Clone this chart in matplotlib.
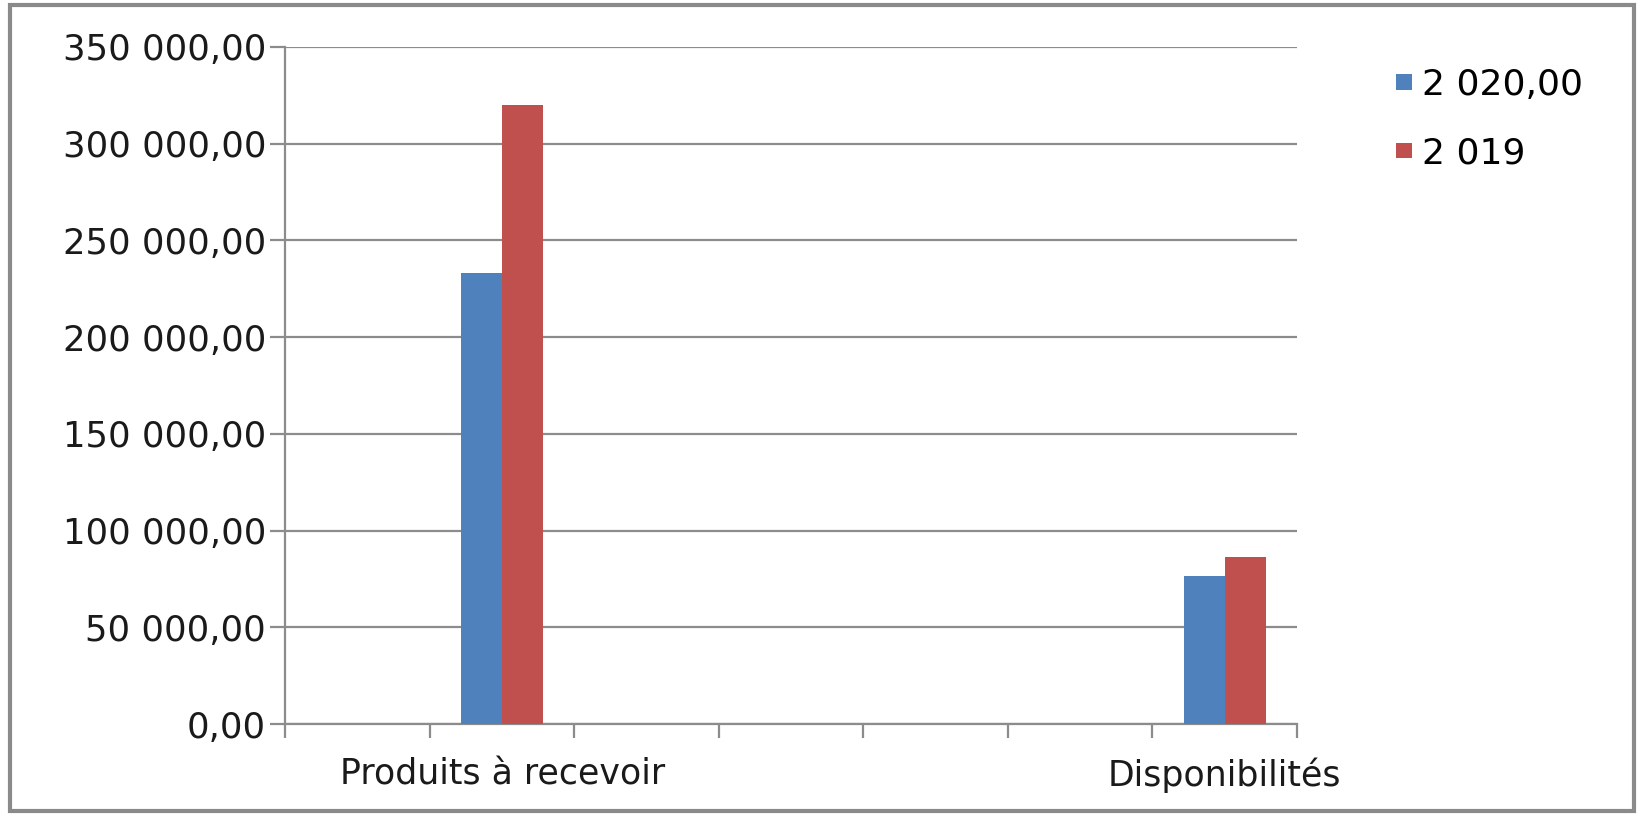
import matplotlib
matplotlib.use("Agg")
import matplotlib.pyplot as plt
from matplotlib.patches import Patch, Rectangle
from matplotlib.ticker import FuncFormatter, MultipleLocator
import numpy as np

categories = ["", "Produits à recevoir", "", "", "", "", "Disponibilités"]
series_names = ["2 020,00", "2 019"]
values_2020 = [0, 233000, 0, 0, 0, 0, 76500]
values_2019 = [0, 320000, 0, 0, 0, 0, 86500]
colors = ["#4F81BD", "#C0504D"]

W, H = 1640, 815
fig = plt.figure(figsize=(W / 100, H / 100), dpi=100)
plt.rcParams['font.family'] = ['DejaVu Sans']

ax = fig.add_axes([285.5 / W, 1 - 724 / H, (1297 - 285.5) / W, (724 - 47) / H])

x = np.arange(len(categories))
bw = 0.284
ax.bar(x - bw / 2, values_2020, bw, color=colors[0], zorder=3)
ax.bar(x + bw / 2, values_2019, bw, color=colors[1], zorder=3)

ax.set_xlim(-0.5, len(categories) - 0.5)
ax.set_ylim(0, 350000)
ax.yaxis.set_major_locator(MultipleLocator(50000))

def fmt(v, pos):
    s = f"{v:,.2f}".replace(",", " ").replace(".", ",")
    return s

ax.yaxis.set_major_formatter(FuncFormatter(fmt))
gray = "#8C8C8C"
ax.grid(axis="y", color=gray, linewidth=1.6, zorder=0)
for s in ["top", "right"]:
    ax.spines[s].set_visible(False)
ax.spines["left"].set_color(gray)
ax.spines["bottom"].set_color(gray)
ax.spines["left"].set_linewidth(1.6)
ax.spines["bottom"].set_linewidth(1.6)

ax.set_xticks(x)
ax.set_xticklabels(categories)
ax.set_xticks(np.arange(-0.5, len(categories)), minor=True)
ax.tick_params(axis="x", which="major", length=0, pad=24, labelsize=25, labelcolor="#1a1a1a")
ax.tick_params(axis="x", which="minor", length=10, width=1.6, color=gray, direction="out")
ax.tick_params(axis="y", which="major", length=11, width=1.6, color=gray, pad=3, labelsize=25.5, labelcolor="#1a1a1a")

handles = [Patch(facecolor=c, edgecolor="none") for c in colors]
fig.legend(handles, series_names, loc="upper left", bbox_to_anchor=(1396 / W, 1 - 68 / H),
           frameon=False, fontsize=26, handlelength=0.43, handleheight=0.285,
           handletextpad=0.3, labelspacing=0.96, borderpad=0, borderaxespad=0)

fig.patches.append(Rectangle((10 / W, 1 - 811 / H), (1634 - 10) / W, (811 - 5) / H,
                             transform=fig.transFigure, fill=False, edgecolor="#8a8a8a",
                             linewidth=3))

fig.savefig("out.png", dpi=100)
